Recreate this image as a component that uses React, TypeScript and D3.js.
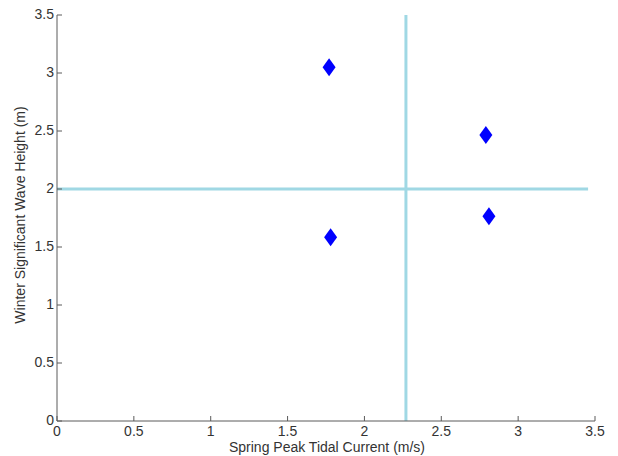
import React from "react";
import * as d3 from "d3";

const xTicks = [0, 0.5, 1, 1.5, 2, 2.5, 3, 3.5];
const yTicks = [0, 0.5, 1, 1.5, 2, 2.5, 3, 3.5];
const currents = [1.77, 1.78, 2.79, 2.81];
const waveHeights = [3.05, 1.585, 2.465, 1.765];
const vLineX = 2.27;
const hLineY = 2;
const hLineXEnd = 3.455;

export default function App() {
  const W = 618, H = 456;
  const left = 57, right = 595, top = 15, bottom = 421;
  const x = d3.scaleLinear().domain([0, 3.5]).range([left, right]);
  const y = d3.scaleLinear().domain([0, 3.5]).range([bottom, top]);
  const font = "Arial, 'Liberation Sans', sans-serif";
  const axisColor = "#5a5a5a";
  const textColor = "#333";
  const lineColor = "#a0d8e4";
  const diamond = (cx: number, cy: number) =>
    `M${cx},${cy - 9}L${cx + 6.5},${cy}L${cx},${cy + 9}L${cx - 6.5},${cy}Z`;
  return (
    <svg width={W} height={H} style={{ position: "absolute", left: 0, top: 0, background: "#fff" }}>
      <rect x={0} y={0} width={W} height={H} fill="#fff" />
      <line x1={x(vLineX)} x2={x(vLineX)} y1={y(3.5)} y2={y(0)} stroke={lineColor} strokeWidth={3} />
      <line x1={x(0)} x2={x(hLineXEnd)} y1={y(hLineY)} y2={y(hLineY)} stroke={lineColor} strokeWidth={3} />
      <line x1={left} x2={left} y1={top} y2={bottom} stroke={axisColor} strokeWidth={1} />
      <line x1={left} x2={right} y1={bottom} y2={bottom} stroke={axisColor} strokeWidth={1} />
      {xTicks.map((t) => (
        <g key={"x" + t}>
          <line x1={x(t)} x2={x(t)} y1={bottom} y2={bottom - 5} stroke={axisColor} />
          <text x={x(t)} y={bottom + 15} textAnchor="middle" fontSize={14} fontFamily={font} fill={textColor}>{t}</text>
        </g>
      ))}
      {yTicks.map((t) => (
        <g key={"y" + t}>
          <line x1={left} x2={left + 5} y1={y(t)} y2={y(t)} stroke={axisColor} />
          <text x={left - 3} y={y(t) + 4} textAnchor="end" fontSize={14} fontFamily={font} fill={textColor}>{t}</text>
        </g>
      ))}
      {currents.map((c, i) => (
        <path key={"p" + i} d={diamond(x(c), y(waveHeights[i]))} fill="#0000ff" />
      ))}
      <text x={327} y={452} textAnchor="middle" fontSize={14} fontFamily={font} fill={textColor}>Spring Peak Tidal Current (m/s)</text>
      <text transform={`translate(25, 215) rotate(-90)`} textAnchor="middle" fontSize={14} fontFamily={font} fill={textColor}>Winter Significant Wave Height (m)</text>
    </svg>
  );
}
